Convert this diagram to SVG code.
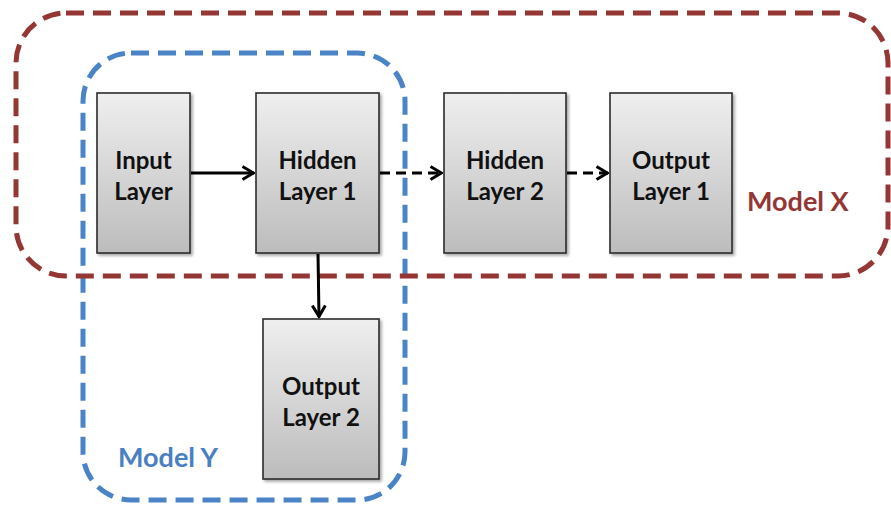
<svg xmlns="http://www.w3.org/2000/svg" width="891" height="506" viewBox="0 0 891 506">
  <defs>
    <linearGradient id="boxFill" x1="0" y1="0" x2="0" y2="1">
      <stop offset="0" stop-color="#efefef"/>
      <stop offset="1" stop-color="#bcbcbc"/>
    </linearGradient>
    <filter id="shadow" x="-10%" y="-10%" width="130%" height="130%">
      <feGaussianBlur in="SourceAlpha" stdDeviation="1.5"/>
      <feOffset dx="1.5" dy="2" result="b"/>
      <feComponentTransfer><feFuncA type="linear" slope="0.35"/></feComponentTransfer>
      <feMerge><feMergeNode/><feMergeNode in="SourceGraphic"/></feMerge>
    </filter>
    <marker id="chevron" viewBox="0 0 14 16" refX="13" refY="8" markerWidth="14" markerHeight="16" markerUnits="userSpaceOnUse" orient="auto">
      <polyline points="1.5,1.5 12.5,8 1.5,14.5" fill="none" stroke="#000" stroke-width="3" stroke-linejoin="miter"/>
    </marker>
  </defs>
  <style>
    .layer rect { fill: url(#boxFill); stroke: #2b2b2b; stroke-width: 1.6; filter: url(#shadow); }
    .layer text { font-family: Lato, "Open Sans", "Liberation Sans", sans-serif; font-weight: bold; font-size: 24px; fill: #111; text-anchor: middle; }
    .group-label { font-family: Lato, "Open Sans", "Liberation Sans", sans-serif; font-weight: bold; font-size: 27px; }
    .edge { fill: none; stroke: #000; stroke-width: 3; marker-end: url(#chevron); }
    .edge.dashed { stroke-dasharray: 10 6; }
  </style>
  <rect width="891" height="506" fill="#fff"/>

  <!-- model Y boundary -->
  <g id="modelY">
    <rect x="83" y="53" width="322" height="447" rx="48" fill="none" stroke="#4a84c6" stroke-width="5" stroke-dasharray="18 9"/>
    <text class="group-label" x="118" y="467" fill="#4a7fc0">Model Y</text>
  </g>

  <!-- model X boundary -->
  <g id="modelX">
    <rect x="16" y="13" width="872" height="263" rx="50" fill="none" stroke="#943634" stroke-width="5" stroke-dasharray="18 9"/>
    <text class="group-label" x="747" y="211" fill="#943634">Model X</text>
  </g>

  <g id="input-layer" class="layer">
    <rect x="97" y="93" width="93" height="160"/>
    <text x="143.5" y="169">Input</text>
    <text x="143.5" y="200">Layer</text>
  </g>

  <g id="hidden-layer-1" class="layer">
    <rect x="256" y="93" width="123" height="160"/>
    <text x="317.5" y="169">Hidden</text>
    <text x="317.5" y="200">Layer 1</text>
  </g>

  <g id="hidden-layer-2" class="layer">
    <rect x="444" y="93" width="122" height="160"/>
    <text x="505" y="169">Hidden</text>
    <text x="505" y="200">Layer 2</text>
  </g>

  <g id="output-layer-1" class="layer">
    <rect x="610" y="93" width="122" height="160"/>
    <text x="671" y="169">Output</text>
    <text x="671" y="200">Layer 1</text>
  </g>

  <g id="output-layer-2" class="layer">
    <rect x="263" y="319" width="116" height="160"/>
    <text x="321" y="395">Output</text>
    <text x="321" y="426">Layer 2</text>
  </g>

  <!-- connectors -->
  <g id="connectors">
    <line class="edge" x1="191" y1="173" x2="254" y2="173"/>
    <line class="edge dashed" x1="380" y1="173" x2="442" y2="173"/>
    <line class="edge dashed" x1="567" y1="173" x2="608" y2="173"/>
    <line class="edge" x1="318" y1="254" x2="319" y2="317"/>
  </g>
</svg>
